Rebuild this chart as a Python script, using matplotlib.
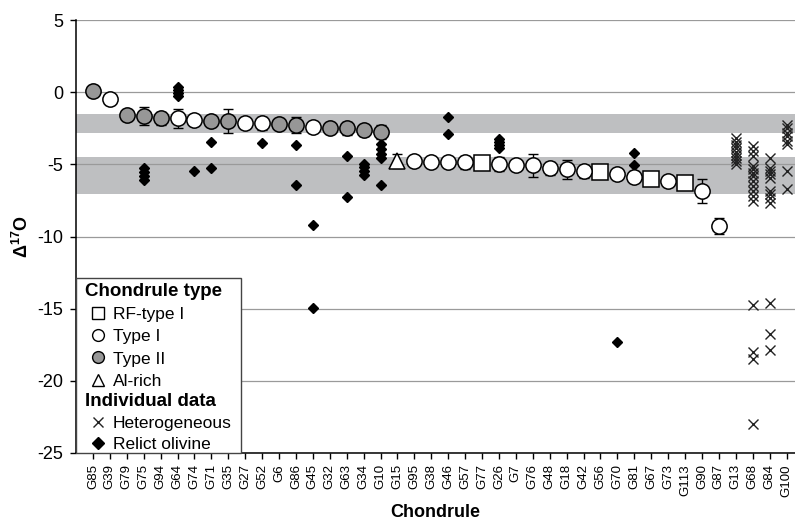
import matplotlib.pyplot as plt
import numpy as np
from matplotlib.lines import Line2D
from matplotlib.patches import Rectangle

plt.rcParams["font.family"] = ["Liberation Sans", "DejaVu Sans"]
plt.rcParams["mathtext.fontset"] = "custom"
plt.rcParams["mathtext.rm"] = "Liberation Sans"
plt.rcParams["mathtext.bf"] = "Liberation Sans:bold"
plt.rcParams["axes.unicode_minus"] = False

# Chondrules in plotting order
chondrules = [
    "G85", "G39", "G79", "G75", "G94", "G64", "G74", "G71", "G35", "G27",
    "G52", "G6", "G86", "G45", "G32", "G63", "G34", "G10", "G15", "G95",
    "G38", "G46", "G57", "G77", "G26", "G7", "G76", "G48", "G18", "G42",
    "G56", "G70", "G81", "G67", "G73", "G113", "G90", "G87", "G13", "G68",
    "G84", "G100",
]
chondrule_type = [
    "II", "I", "II", "II", "II", "I", "I", "II", "II", "I",
    "I", "II", "II", "I", "II", "II", "II", "II", "Al", "I",
    "I", "I", "I", "RF", "I", "I", "I", "I", "I", "I",
    "RF", "I", "I", "RF", "I", "RF", "I", "I", None, None,
    None, None,
]
bulk_d17o = [
    0.1, -0.5, -1.55, -1.65, -1.82, -1.8, -1.95, -2.0, -2.0, -2.15,
    -2.15, -2.2, -2.25, -2.4, -2.45, -2.5, -2.65, -2.75, -4.75, -4.8,
    -4.82, -4.83, -4.85, -4.93, -4.96, -5.05, -5.05, -5.28, -5.35, -5.47,
    -5.55, -5.65, -5.85, -6.05, -6.15, -6.27, -6.85, -9.3, np.nan, np.nan,
    np.nan, np.nan,
]
bulk_err = [
    np.nan, np.nan, np.nan, 0.65, 0.45, 0.65, np.nan, np.nan, 0.8, np.nan,
    0.45, np.nan, 0.55, np.nan, np.nan, 0.45, 0.4, 0.5, 0.5, np.nan,
    np.nan, np.nan, 0.45, np.nan, 0.5, np.nan, 0.8, 0.45, 0.65, 0.45,
    np.nan, np.nan, 0.4, np.nan, np.nan, np.nan, 0.8, 0.55, np.nan, np.nan,
    np.nan, np.nan,
]

# Individual spot analyses
relict_olivine = {
    "G75": [-5.25, -5.5, -5.8, -6.1],
    "G64": [0.35, 0.15, -0.05, -0.25],
    "G74": [-5.47],
    "G71": [-3.46, -5.28],
    "G52": [-3.55],
    "G86": [-3.65, -6.45],
    "G45": [-9.2, -14.93],
    "G63": [-4.43, -7.27],
    "G34": [-4.95, -5.2, -5.45, -5.75],
    "G10": [-3.62, -3.95, -4.25, -4.54, -6.45],
    "G46": [-1.7, -2.93],
    "G26": [-3.25, -3.45, -3.65, -3.9],
    "G81": [-4.24, -5.05],
    "G70": [-17.3],
}
heterogeneous = {
    "G13": [-3.16, -3.43, -3.67, -3.9, -4.12, -4.36, -4.54, -4.77, -5.0],
    "G68": [-3.74, -4.08, -4.43, -5.12, -5.35, -5.58, -5.81, -6.16, -6.5,
            -6.85, -7.2, -7.54, -14.74, -18.0, -18.5, -23.0],
    "G84": [-4.54, -5.23, -5.47, -5.7, -5.92, -6.85, -7.08, -7.31, -7.65,
            -14.62, -16.77, -17.88],
    "G100": [-2.24, -2.46, -2.81, -3.04, -3.39, -3.62, -5.47, -6.69],
}

# Shaded ranges
bands = [(-2.81, -1.54), (-7.03, -4.5)]

type_styles = {
    "RF": ("s", "white", "RF-type I"),
    "I": ("o", "white", "Type I"),
    "II": ("o", "#979797", "Type II"),
    "Al": ("^", "white", "Al-rich"),
}

pos = {name: i for i, name in enumerate(chondrules)}
x = np.arange(len(chondrules))
bulk = np.array(bulk_d17o)
err = np.array(bulk_err)
types = np.array([t if t else "" for t in chondrule_type])

fig = plt.figure(figsize=(7.95, 5.24), dpi=100)
ax = fig.add_axes([0.0956, 0.1355, 0.9044, 0.8263])

for lo, hi in bands:
    ax.axhspan(lo, hi, color="#bebfc1", lw=0, zorder=0)

ax.set_axisbelow(True)
ax.yaxis.grid(True, color="#9a9a9a", lw=0.9, zorder=0.5)

# error bars
ok = ~np.isnan(err)
ax.errorbar(x[ok], bulk[ok], yerr=err[ok], fmt="none", ecolor="black",
            elinewidth=1, capsize=3.5, capthick=1, zorder=2)

# relict olivine
for name, vals in relict_olivine.items():
    ax.plot([pos[name]] * len(vals), vals, linestyle="none", marker="D",
            ms=5.3, color="black", zorder=2.5)

# heterogeneous
for name, vals in heterogeneous.items():
    ax.plot([pos[name]] * len(vals), vals, linestyle="none", marker="x",
            ms=7, mew=1.0, color="#222222", zorder=2.5)

# bulk chondrules
for t, (marker, fc, label) in type_styles.items():
    sel = types == t
    ax.plot(x[sel], bulk[sel], linestyle="none", marker=marker, ms=11,
            mfc=fc, mec="black", mew=1.1, zorder=3)

ax.set_xlim(-1, 41.5)
ax.set_ylim(-25, 5)
ax.set_yticks(np.arange(-25, 6, 5))
ax.set_xticks(x)
ax.set_xticklabels(chondrules, rotation=90, fontsize=9.5)
ax.tick_params(axis="x", length=4, width=1, pad=4)
ax.tick_params(axis="y", length=4, width=1, pad=5, labelsize=13)
for side in ["top", "right"]:
    ax.spines[side].set_visible(False)
for side in ["left", "bottom"]:
    ax.spines[side].set_linewidth(1.1)

ax.set_xlabel("Chondrule", fontsize=13, fontweight="bold", labelpad=5)
ax.set_ylabel("Δ$^{\\mathbf{17}}$O", fontsize=13, fontweight="bold", labelpad=4)

# legend box
ax.add_patch(Rectangle((0, 0), 0.2295, 0.405, transform=ax.transAxes,
                       facecolor="white", edgecolor="#444444", lw=1,
                       zorder=5, clip_on=False))

type_handles = [
    Line2D([], [], linestyle="none", marker=m, ms=8.5, mfc=fc, mec="black",
           mew=1.0, label=lab)
    for m, fc, lab in type_styles.values()
]
data_handles = [
    Line2D([], [], linestyle="none", marker="x", ms=7.5, mew=1.0,
           color="#222222", label="Heterogeneous"),
    Line2D([], [], linestyle="none", marker="D", ms=6, color="black",
           label="Relict olivine"),
]

leg_kw = dict(loc="upper left", frameon=False, fontsize=12.5,
              borderpad=0, borderaxespad=0, handlelength=1.55,
              handletextpad=0.05, alignment="left")
leg1 = ax.legend(handles=type_handles, title="Chondrule type",
                 bbox_to_anchor=(0.0125, 0.392), labelspacing=0.4, **leg_kw)
leg1.get_title().set_fontweight("bold")
leg1.get_title().set_fontsize(13.5)
leg1.set_zorder(6)
ax.add_artist(leg1)
leg2 = ax.legend(handles=data_handles, title="Individual data",
                 bbox_to_anchor=(0.0125, 0.139), labelspacing=0.33, **leg_kw)
leg2.get_title().set_fontweight("bold")
leg2.get_title().set_fontsize(13.5)
leg2.set_zorder(6)

fig.savefig("out.png", dpi=100)
